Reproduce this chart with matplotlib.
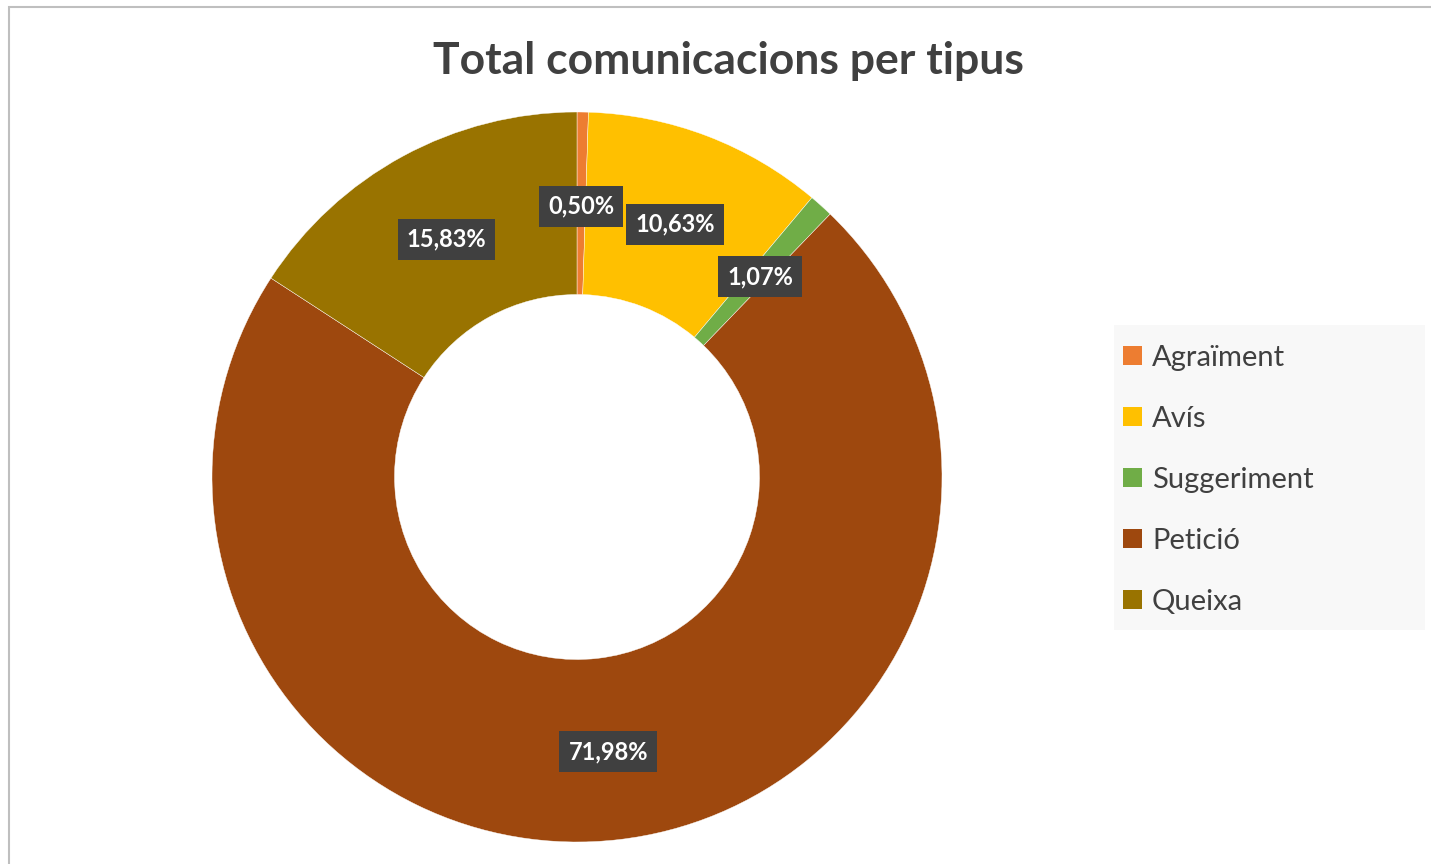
import matplotlib
matplotlib.use("Agg")
import numpy as np
import matplotlib.pyplot as plt
from matplotlib.patches import Rectangle, Patch

categories = ["Agraïment", "Avís", "Suggeriment", "Petició", "Queixa"]
values = [0.50, 10.63, 1.07, 71.98, 15.83]
colors = ["#ED7D31", "#FFC000", "#70AD47", "#9E480E", "#997300"]
title = "Total comunicacions per tipus"

plt.rcParams['font.family'] = ['Lato', 'DejaVu Sans']

W, H = 1431, 864
fig = plt.figure(figsize=(W/100, H/100), dpi=100)
fig.patch.set_facecolor("white")

# chart border
fig.add_artist(Rectangle((8.5/W, -0.05), 1.2, 1.05 - 6.5/H, transform=fig.transFigure,
                         fill=False, edgecolor="#bfbfbf", linewidth=1.5))

cx, cy, r = 577, 477, 365
ax = fig.add_axes([(cx - r)/W, (H - cy - r)/H, 2*r/W, 2*r/H])

def fmt(p):
    return f"{p:.2f}".replace(".", ",") + "%"

wedges, texts = ax.pie(
    values, colors=colors, startangle=90, counterclock=False,
    radius=1.0, wedgeprops=dict(width=0.5, edgecolor="white", linewidth=0.3))
for w, v in zip(wedges, values):
    ang = np.deg2rad((w.theta1 + w.theta2) / 2)
    x, y = 0.75 * np.cos(ang), 0.75 * np.sin(ang) - 0.008
    ax.text(x, y, fmt(v), ha="center", va="center", color="white",
            fontsize=17, fontweight="bold",
            bbox=dict(boxstyle="square,pad=0.38", facecolor="#404040", edgecolor="none"))
ax.set_xlim(-1, 1)
ax.set_ylim(-1, 1)
ax.set_aspect("equal")
ax.axis("off")

fig.text(728/W, 1 - 61/H, title, ha="center", va="center",
         fontsize=32, fontweight="bold", color="#404040")

# legend
fig.add_artist(Rectangle((1114/W, 1 - 630/H), (1425-1114)/W, (630-325)/H,
                         transform=fig.transFigure, facecolor="#f8f8f8", edgecolor="none"))
handles = [Patch(facecolor=c, edgecolor="none") for c in colors]
leg = fig.legend(handles, categories, loc="center left",
                 bbox_to_anchor=(1114/W, 1 - 480/H), frameon=False,
                 fontsize=21, labelcolor="#404040", handlelength=0.65, handleheight=0.65,
                 handletextpad=0.35, labelspacing=1.2, borderaxespad=0, borderpad=0.3)

fig.savefig("out.png", dpi=100)
